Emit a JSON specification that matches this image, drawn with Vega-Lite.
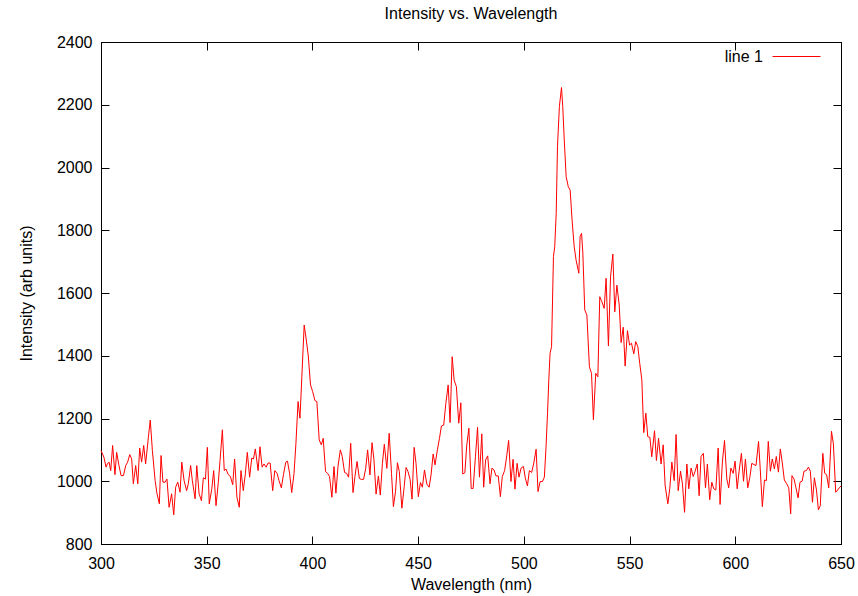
{
  "$schema": "https://vega.github.io/schema/vega-lite/v6.json",
  "width": 740,
  "height": 502,
  "autosize": {"type": "none"},
  "padding": {"left": 101, "top": 42, "right": 17, "bottom": 52},
  "background": "white",
  "title": {"text": "Intensity vs. Wavelength", "fontSize": 16, "fontWeight": "normal", "color": "black", "font": "Liberation Sans", "anchor": "middle", "baseline": "alphabetic", "offset": -3},
  "config": {
    "font": "Liberation Sans",
    "view": {"stroke": "black", "strokeWidth": 1},
    "axis": {
      "grid": false,
      "domainColor": "black",
      "domainWidth": 1,
      "tickColor": "black",
      "tickWidth": 1,
      "tickSize": -8,
      "labelFontSize": 16,
      "labelColor": "black",
      "labelFont": "Liberation Sans",
      "labelFlush": false,
      "labelOverlap": false,
      "titleFontSize": 16,
      "titleFontWeight": "normal",
      "titleColor": "black",
      "titleFont": "Liberation Sans"
    }
  },
  "data": {"values": [
    {"wavelength": 300.0, "intensity": 1098}, {"wavelength": 301.4, "intensity": 1076}, {"wavelength": 302.4, "intensity": 1045}, {"wavelength": 303.0, "intensity": 1055}, {"wavelength": 303.8, "intensity": 1061}, {"wavelength": 304.6, "intensity": 1034}, {"wavelength": 305.5, "intensity": 1114}, {"wavelength": 306.6, "intensity": 1021}, {"wavelength": 307.4, "intensity": 1092}, {"wavelength": 308.5, "intensity": 1050}, {"wavelength": 309.5, "intensity": 1018}, {"wavelength": 310.6, "intensity": 1018}, {"wavelength": 311.7, "intensity": 1050}, {"wavelength": 312.6, "intensity": 1061}, {"wavelength": 313.6, "intensity": 1085}, {"wavelength": 314.5, "intensity": 1071}, {"wavelength": 315.3, "intensity": 992}, {"wavelength": 316.4, "intensity": 1050}, {"wavelength": 317.4, "intensity": 992}, {"wavelength": 318.3, "intensity": 1106}, {"wavelength": 319.2, "intensity": 1061}, {"wavelength": 320.2, "intensity": 1114}, {"wavelength": 321.1, "intensity": 1055}, {"wavelength": 322.4, "intensity": 1140}, {"wavelength": 323.3, "intensity": 1195}, {"wavelength": 324.3, "intensity": 1098}, {"wavelength": 325.6, "intensity": 1002}, {"wavelength": 326.5, "intensity": 960}, {"wavelength": 327.6, "intensity": 928}, {"wavelength": 328.4, "intensity": 1082}, {"wavelength": 329.3, "intensity": 997}, {"wavelength": 330.3, "intensity": 997}, {"wavelength": 331.2, "intensity": 1007}, {"wavelength": 332.2, "intensity": 917}, {"wavelength": 333.4, "intensity": 960}, {"wavelength": 334.4, "intensity": 893}, {"wavelength": 335.3, "intensity": 981}, {"wavelength": 336.3, "intensity": 997}, {"wavelength": 337.4, "intensity": 965}, {"wavelength": 338.2, "intensity": 1061}, {"wavelength": 339.3, "intensity": 1002}, {"wavelength": 340.5, "intensity": 970}, {"wavelength": 341.3, "intensity": 992}, {"wavelength": 342.4, "intensity": 1050}, {"wavelength": 343.2, "intensity": 1002},
    {"wavelength": 344.5, "intensity": 944}, {"wavelength": 345.3, "intensity": 1050}, {"wavelength": 346.4, "intensity": 960}, {"wavelength": 347.5, "intensity": 938}, {"wavelength": 348.4, "intensity": 1011}, {"wavelength": 349.4, "intensity": 1007}, {"wavelength": 350.3, "intensity": 1108}, {"wavelength": 351.2, "intensity": 928}, {"wavelength": 352.4, "intensity": 976}, {"wavelength": 353.3, "intensity": 1034}, {"wavelength": 354.4, "intensity": 922}, {"wavelength": 355.5, "intensity": 997}, {"wavelength": 356.3, "intensity": 1066}, {"wavelength": 357.4, "intensity": 1164}, {"wavelength": 358.3, "intensity": 1034}, {"wavelength": 359.1, "intensity": 1039}, {"wavelength": 360.2, "intensity": 1021}, {"wavelength": 361.2, "intensity": 1015}, {"wavelength": 362.3, "intensity": 989}, {"wavelength": 363.2, "intensity": 1071}, {"wavelength": 364.3, "intensity": 949}, {"wavelength": 365.4, "intensity": 917}, {"wavelength": 366.2, "intensity": 1034}, {"wavelength": 367.3, "intensity": 970}, {"wavelength": 368.3, "intensity": 1025}, {"wavelength": 369.2, "intensity": 1092}, {"wavelength": 370.3, "intensity": 1013}, {"wavelength": 371.3, "intensity": 1074}, {"wavelength": 372.1, "intensity": 1071}, {"wavelength": 373.0, "intensity": 1103}, {"wavelength": 374.3, "intensity": 1034}, {"wavelength": 375.2, "intensity": 1110}, {"wavelength": 376.2, "intensity": 1045}, {"wavelength": 377.1, "intensity": 1055}, {"wavelength": 378.1, "intensity": 1045}, {"wavelength": 379.0, "intensity": 1058}, {"wavelength": 380.0, "intensity": 1058}, {"wavelength": 381.2, "intensity": 970}, {"wavelength": 382.2, "intensity": 1034}, {"wavelength": 383.3, "intensity": 1025}, {"wavelength": 384.2, "intensity": 1002}, {"wavelength": 385.3, "intensity": 979}, {"wavelength": 386.3, "intensity": 1021}, {"wavelength": 387.4, "intensity": 1061}, {"wavelength": 388.2, "intensity": 1064},
    {"wavelength": 389.2, "intensity": 1025}, {"wavelength": 390.2, "intensity": 964}, {"wavelength": 391.3, "intensity": 1025}, {"wavelength": 392.2, "intensity": 1121}, {"wavelength": 393.2, "intensity": 1254}, {"wavelength": 394.1, "intensity": 1201}, {"wavelength": 395.0, "intensity": 1333}, {"wavelength": 396.1, "intensity": 1498}, {"wavelength": 397.1, "intensity": 1450}, {"wavelength": 398.0, "intensity": 1402}, {"wavelength": 399.1, "intensity": 1307}, {"wavelength": 400.1, "intensity": 1286}, {"wavelength": 401.2, "intensity": 1257}, {"wavelength": 402.1, "intensity": 1254}, {"wavelength": 403.2, "intensity": 1132}, {"wavelength": 404.2, "intensity": 1116}, {"wavelength": 405.1, "intensity": 1137}, {"wavelength": 406.2, "intensity": 1031}, {"wavelength": 407.2, "intensity": 1025}, {"wavelength": 408.1, "intensity": 1015}, {"wavelength": 409.2, "intensity": 949}, {"wavelength": 410.2, "intensity": 1047}, {"wavelength": 411.1, "intensity": 962}, {"wavelength": 412.1, "intensity": 1047}, {"wavelength": 413.2, "intensity": 1100}, {"wavelength": 414.1, "intensity": 1079}, {"wavelength": 415.2, "intensity": 1028}, {"wavelength": 416.2, "intensity": 1025}, {"wavelength": 417.1, "intensity": 1013}, {"wavelength": 418.1, "intensity": 1121}, {"wavelength": 419.2, "intensity": 964}, {"wavelength": 420.1, "intensity": 1015}, {"wavelength": 421.1, "intensity": 1063}, {"wavelength": 422.2, "intensity": 1009}, {"wavelength": 423.1, "intensity": 1006}, {"wavelength": 424.2, "intensity": 1006}, {"wavelength": 425.2, "intensity": 1041}, {"wavelength": 426.1, "intensity": 1100}, {"wavelength": 427.2, "intensity": 1020}, {"wavelength": 428.2, "intensity": 1123}, {"wavelength": 429.1, "intensity": 1068}, {"wavelength": 430.1, "intensity": 959}, {"wavelength": 431.2, "intensity": 1017}, {"wavelength": 432.1, "intensity": 956}, {"wavelength": 433.1, "intensity": 1057}, {"wavelength": 434.0, "intensity": 1118},
    {"wavelength": 435.2, "intensity": 1041}, {"wavelength": 436.3, "intensity": 1153}, {"wavelength": 437.4, "intensity": 1025}, {"wavelength": 438.3, "intensity": 919}, {"wavelength": 439.3, "intensity": 967}, {"wavelength": 440.2, "intensity": 1059}, {"wavelength": 441.1, "intensity": 1031}, {"wavelength": 442.3, "intensity": 914}, {"wavelength": 443.4, "intensity": 983}, {"wavelength": 444.3, "intensity": 1044}, {"wavelength": 445.2, "intensity": 1031}, {"wavelength": 446.2, "intensity": 1006}, {"wavelength": 447.1, "intensity": 943}, {"wavelength": 448.1, "intensity": 1108}, {"wavelength": 449.0, "intensity": 1057}, {"wavelength": 450.1, "intensity": 951}, {"wavelength": 451.1, "intensity": 996}, {"wavelength": 452.0, "intensity": 981}, {"wavelength": 453.0, "intensity": 1036}, {"wavelength": 454.1, "intensity": 991}, {"wavelength": 455.2, "intensity": 981}, {"wavelength": 456.1, "intensity": 1020}, {"wavelength": 457.1, "intensity": 1087}, {"wavelength": 458.0, "intensity": 1052}, {"wavelength": 459.1, "intensity": 1100}, {"wavelength": 460.1, "intensity": 1137}, {"wavelength": 461.0, "intensity": 1176}, {"wavelength": 462.1, "intensity": 1179}, {"wavelength": 463.1, "intensity": 1248}, {"wavelength": 464.2, "intensity": 1307}, {"wavelength": 465.1, "intensity": 1187}, {"wavelength": 466.1, "intensity": 1397}, {"wavelength": 467.0, "intensity": 1323}, {"wavelength": 468.1, "intensity": 1301}, {"wavelength": 469.2, "intensity": 1185}, {"wavelength": 470.2, "intensity": 1250}, {"wavelength": 471.1, "intensity": 1023}, {"wavelength": 472.1, "intensity": 1027}, {"wavelength": 473.0, "intensity": 1116}, {"wavelength": 474.0, "intensity": 1169}, {"wavelength": 475.1, "intensity": 977}, {"wavelength": 476.0, "intensity": 977}, {"wavelength": 477.1, "intensity": 1078}, {"wavelength": 478.1, "intensity": 1172}, {"wavelength": 479.0, "intensity": 1013},
    {"wavelength": 480.1, "intensity": 1151}, {"wavelength": 481.0, "intensity": 981}, {"wavelength": 481.9, "intensity": 1068}, {"wavelength": 482.9, "intensity": 1081}, {"wavelength": 484.0, "intensity": 992}, {"wavelength": 484.9, "intensity": 1042}, {"wavelength": 485.9, "intensity": 1036}, {"wavelength": 486.8, "intensity": 1017}, {"wavelength": 487.9, "intensity": 1017}, {"wavelength": 488.9, "intensity": 951}, {"wavelength": 489.8, "intensity": 1015}, {"wavelength": 490.9, "intensity": 1034}, {"wavelength": 491.9, "intensity": 1081}, {"wavelength": 492.8, "intensity": 1130}, {"wavelength": 493.9, "intensity": 999}, {"wavelength": 494.9, "intensity": 1070}, {"wavelength": 495.8, "intensity": 975}, {"wavelength": 496.8, "intensity": 1057}, {"wavelength": 497.7, "intensity": 1013}, {"wavelength": 498.7, "intensity": 1042}, {"wavelength": 499.8, "intensity": 1047}, {"wavelength": 500.7, "intensity": 1010}, {"wavelength": 501.7, "intensity": 985}, {"wavelength": 502.6, "intensity": 1034}, {"wavelength": 503.7, "intensity": 1028}, {"wavelength": 504.7, "intensity": 1058}, {"wavelength": 505.8, "intensity": 1102}, {"wavelength": 506.7, "intensity": 967}, {"wavelength": 507.7, "intensity": 999}, {"wavelength": 508.8, "intensity": 999}, {"wavelength": 509.7, "intensity": 1013},
    {"wavelength": 510.5, "intensity": 1111}, {"wavelength": 511.2, "intensity": 1217}, {"wavelength": 511.8, "intensity": 1323}, {"wavelength": 512.4, "intensity": 1408}, {"wavelength": 513.1, "intensity": 1429}, {"wavelength": 514.0, "intensity": 1716}, {"wavelength": 514.6, "intensity": 1748}, {"wavelength": 515.3, "intensity": 1854}, {"wavelength": 515.9, "intensity": 2066}, {"wavelength": 516.8, "intensity": 2194}, {"wavelength": 517.8, "intensity": 2255}, {"wavelength": 518.4, "intensity": 2194}, {"wavelength": 519.1, "intensity": 2088}, {"wavelength": 520.0, "intensity": 1971}, {"wavelength": 521.0, "intensity": 1939}, {"wavelength": 521.9, "intensity": 1928}, {"wavelength": 522.8, "intensity": 1833}, {"wavelength": 523.8, "intensity": 1748}, {"wavelength": 524.7, "intensity": 1705}, {"wavelength": 526.0, "intensity": 1663}, {"wavelength": 526.6, "intensity": 1780}, {"wavelength": 527.3, "intensity": 1790}, {"wavelength": 527.9, "intensity": 1727}, {"wavelength": 528.8, "intensity": 1546}, {"wavelength": 529.8, "intensity": 1530}, {"wavelength": 531.0, "intensity": 1365}, {"wavelength": 532.0, "intensity": 1344}, {"wavelength": 532.9, "intensity": 1196},
    {"wavelength": 534.0, "intensity": 1344}, {"wavelength": 535.0, "intensity": 1333}, {"wavelength": 535.9, "intensity": 1588}, {"wavelength": 536.9, "intensity": 1572}, {"wavelength": 538.0, "intensity": 1551}, {"wavelength": 538.9, "intensity": 1647}, {"wavelength": 540.0, "intensity": 1431}, {"wavelength": 541.0, "intensity": 1652}, {"wavelength": 542.1, "intensity": 1724}, {"wavelength": 543.0, "intensity": 1540}, {"wavelength": 544.0, "intensity": 1625}, {"wavelength": 545.1, "intensity": 1562}, {"wavelength": 546.0, "intensity": 1442}, {"wavelength": 547.0, "intensity": 1491}, {"wavelength": 547.9, "intensity": 1367}, {"wavelength": 549.0, "intensity": 1480}, {"wavelength": 550.0, "intensity": 1434}, {"wavelength": 550.9, "intensity": 1440}, {"wavelength": 552.0, "intensity": 1406}, {"wavelength": 552.9, "intensity": 1445}, {"wavelength": 553.9, "intensity": 1429}, {"wavelength": 554.8, "intensity": 1376}, {"wavelength": 555.8, "intensity": 1323}, {"wavelength": 556.7, "intensity": 1155}, {"wavelength": 557.7, "intensity": 1217}, {"wavelength": 558.6, "intensity": 1142}, {"wavelength": 559.6, "intensity": 1140}, {"wavelength": 560.5, "intensity": 1078}, {"wavelength": 561.8, "intensity": 1161}, {"wavelength": 562.7, "intensity": 1066}, {"wavelength": 563.7, "intensity": 1137}, {"wavelength": 564.9, "intensity": 1055}, {"wavelength": 565.9, "intensity": 1116}, {"wavelength": 566.8, "intensity": 988},
    {"wavelength": 568.1, "intensity": 928}, {"wavelength": 569.0, "intensity": 976}, {"wavelength": 570.0, "intensity": 1061}, {"wavelength": 571.1, "intensity": 1002}, {"wavelength": 572.0, "intensity": 1149}, {"wavelength": 573.0, "intensity": 970}, {"wavelength": 574.1, "intensity": 1032}, {"wavelength": 575.0, "intensity": 992}, {"wavelength": 576.0, "intensity": 901}, {"wavelength": 577.1, "intensity": 1055}, {"wavelength": 578.0, "intensity": 976}, {"wavelength": 579.1, "intensity": 1042}, {"wavelength": 580.1, "intensity": 1015}, {"wavelength": 581.0, "intensity": 1032}, {"wavelength": 582.0, "intensity": 1055}, {"wavelength": 582.9, "intensity": 954}, {"wavelength": 583.8, "intensity": 1079}, {"wavelength": 584.9, "intensity": 1089}, {"wavelength": 585.9, "intensity": 979}, {"wavelength": 586.8, "intensity": 1055}, {"wavelength": 587.9, "intensity": 941}, {"wavelength": 588.9, "intensity": 997}, {"wavelength": 589.8, "intensity": 976}, {"wavelength": 590.8, "intensity": 972}, {"wavelength": 591.9, "intensity": 1106}, {"wavelength": 592.8, "intensity": 926}, {"wavelength": 593.9, "intensity": 1061}, {"wavelength": 594.9, "intensity": 1130}, {"wavelength": 596.0, "intensity": 1007}, {"wavelength": 596.9, "intensity": 979}, {"wavelength": 597.9, "intensity": 1042}, {"wavelength": 599.0, "intensity": 1025}, {"wavelength": 599.9, "intensity": 1064}, {"wavelength": 600.9, "intensity": 976}, {"wavelength": 601.8, "intensity": 1032}, {"wavelength": 602.9, "intensity": 1089}, {"wavelength": 603.9, "intensity": 1000}, {"wavelength": 604.8, "intensity": 1071}, {"wavelength": 605.9, "intensity": 979}, {"wavelength": 606.9, "intensity": 1013}, {"wavelength": 607.8, "intensity": 1057}, {"wavelength": 608.9, "intensity": 1053}, {"wavelength": 609.8, "intensity": 1050}, {"wavelength": 611.0, "intensity": 1127},
    {"wavelength": 611.8, "intensity": 1040}, {"wavelength": 612.8, "intensity": 919}, {"wavelength": 613.8, "intensity": 1004}, {"wavelength": 614.7, "intensity": 1002}, {"wavelength": 615.6, "intensity": 1127}, {"wavelength": 616.6, "intensity": 1032}, {"wavelength": 617.5, "intensity": 1071}, {"wavelength": 618.5, "intensity": 1039}, {"wavelength": 619.4, "intensity": 1079}, {"wavelength": 620.4, "intensity": 1029}, {"wavelength": 621.3, "intensity": 1103}, {"wavelength": 622.3, "intensity": 1055}, {"wavelength": 623.2, "intensity": 1004}, {"wavelength": 624.3, "intensity": 992}, {"wavelength": 625.3, "intensity": 979}, {"wavelength": 626.2, "intensity": 896}, {"wavelength": 626.8, "intensity": 1018}, {"wavelength": 627.8, "intensity": 1007}, {"wavelength": 628.7, "intensity": 979}, {"wavelength": 629.7, "intensity": 947}, {"wavelength": 630.6, "intensity": 997}, {"wavelength": 631.6, "intensity": 1000}, {"wavelength": 632.5, "intensity": 1032}, {"wavelength": 633.6, "intensity": 1034}, {"wavelength": 634.6, "intensity": 1045}, {"wavelength": 635.5, "intensity": 1032}, {"wavelength": 636.5, "intensity": 933}, {"wavelength": 637.4, "intensity": 1011}, {"wavelength": 638.4, "intensity": 972}, {"wavelength": 639.3, "intensity": 909}, {"wavelength": 640.2, "intensity": 922}, {"wavelength": 641.4, "intensity": 1089}, {"wavelength": 642.3, "intensity": 1025}, {"wavelength": 643.2, "intensity": 1021}, {"wavelength": 644.2, "intensity": 979}, {"wavelength": 645.5, "intensity": 1159}, {"wavelength": 646.4, "intensity": 1119}, {"wavelength": 647.5, "intensity": 965}, {"wavelength": 648.4, "intensity": 972}, {"wavelength": 649.2, "intensity": 979}, {"wavelength": 650.0, "intensity": 985}
  ]},
  "layer": [
    {
      "mark": {"type": "line", "strokeWidth": 1, "interpolate": "linear"},
      "encoding": {
        "x": {"field": "wavelength", "type": "quantitative", "scale": {"domain": [300, 650], "nice": false, "zero": false},
              "axis": {"orient": "bottom", "title": "Wavelength (nm)", "values": [300, 350, 400, 450, 500, 550, 600, 650], "format": "d", "labelPadding": 19, "titlePadding": 5}},
        "y": {"field": "intensity", "type": "quantitative", "scale": {"domain": [800, 2400], "nice": false, "zero": false},
              "axis": {"orient": "left", "title": "Intensity (arb units)", "values": [800, 1000, 1200, 1400, 1600, 1800, 2000, 2200, 2400], "format": "d", "labelPadding": 17, "titlePadding": 22}},
        "color": {"datum": "line 1", "type": "nominal", "scale": {"range": ["#ff0000"]},
                  "legend": {"title": null, "orient": "none", "legendX": 671, "legendY": -10, "padding": 0, "symbolType": "stroke", "symbolSize": 2304, "symbolStrokeWidth": 1, "labelFontSize": 16, "labelColor": "black", "labelAlign": "right", "labelOffset": -58}}
      }
    },
    {
      "mark": {"type": "line", "opacity": 0},
      "encoding": {
        "x": {"field": "wavelength", "type": "quantitative", "axis": {"orient": "top", "title": null, "labels": false, "values": [300, 350, 400, 450, 500, 550, 600, 650]}},
        "y": {"field": "intensity", "type": "quantitative", "axis": {"orient": "right", "title": null, "labels": false, "values": [800, 1000, 1200, 1400, 1600, 1800, 2000, 2200, 2400]}}
      }
    }
  ],
  "resolve": {"axis": {"x": "independent", "y": "independent"}}
}
